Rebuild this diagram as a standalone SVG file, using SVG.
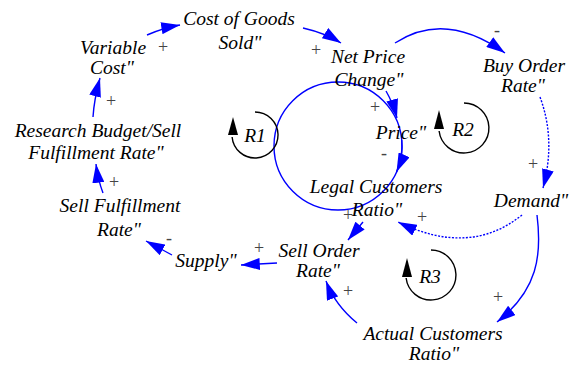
<svg xmlns="http://www.w3.org/2000/svg" width="571" height="366" viewBox="0 0 571 366">
<style>
.n{font-family:'Liberation Serif','Tinos','DejaVu Serif',serif;font-style:italic;font-size:19.5px;fill:#000;text-anchor:middle}
.s{font-family:'Liberation Serif','Tinos','DejaVu Serif',serif;font-size:18px;fill:#444;text-anchor:middle}
.l{fill:none;stroke:#0000ff;stroke-width:1.4}
.d{stroke-dasharray:2,1.5}
.loop{fill:none;stroke:#000;stroke-width:1.4}
</style>
<defs>
<marker id="ah" markerUnits="userSpaceOnUse" markerWidth="19" markerHeight="12" viewBox="0 0 18 11.5" refX="18" refY="5.75" orient="auto">
<path d="M0,0 L18,5.75 L0,11.5 z" fill="#0000ff"/>
</marker>
</defs>
<rect width="571" height="366" fill="#fff"/>
<g id="connectors">
<path class="l" d="M147,35 Q163,28 180,25" marker-end="url(#ah)"/>
<path class="l" d="M303,28 Q325,33 341,43" marker-end="url(#ah)"/>
<path class="l" d="M395,43 Q445,10 505,53" marker-end="url(#ah)"/>
<path class="l d" d="M540,97 Q556,140 543,188" marker-end="url(#ah)"/>
<path class="l d" d="M522,215 Q470,257 398,222" marker-end="url(#ah)"/>
<path class="l" d="M537,215 C542,255 538,290 497,322" marker-end="url(#ah)"/>
<path class="l" d="M363,222 L348,240" marker-end="url(#ah)"/>
<path class="l" d="M277,263 L241,265" marker-end="url(#ah)"/>
<path class="l" d="M172,255 L146,241" marker-end="url(#ah)"/>
<path class="l" d="M103,193 Q98,180 96,164" marker-end="url(#ah)"/>
<path class="l" d="M93,117 Q94,100 100,78" marker-end="url(#ah)"/>
<path class="l" d="M357,323 Q335,305 326,281" marker-end="url(#ah)"/>
<path class="l" d="M386,91 Q393,103 397,118" marker-end="url(#ah)"/>
<circle class="l" cx="338" cy="146" r="64"/>
<path class="l" d="M401.7,140 A64,64 0 0 1 396.5,172" marker-end="url(#ah)"/>
</g>
<g id="signs">
<text class="s" x="163" y="53">+</text>
<text class="s" x="111" y="107">+</text>
<text class="s" x="316" y="56">+</text>
<text class="s" x="497" y="36">-</text>
<text class="s" x="375" y="113">+</text>
<text class="s" x="114" y="188">+</text>
<text class="s" x="169" y="244">-</text>
<text class="s" x="384" y="159">-</text>
<text class="s" x="533" y="170">+</text>
<text class="s" x="348" y="221">+</text>
<text class="s" x="422" y="223">+</text>
<text class="s" x="259" y="254">+</text>
<text class="s" x="348" y="297">+</text>
<text class="s" x="498" y="303">+</text>
</g>
<g id="loop-R1">
<path class="loop" d="M255,112 A23,23 0 1 1 232.1,137"/>
<polygon points="233,117 228,135 238,135" fill="#000"/>
<text class="n" x="255" y="142">R1</text>
</g>
<g id="loop-R2">
<path class="loop" d="M464,103 A25,25 0 1 1 439.1,131"/>
<polygon points="439,110 434,129 444,129" fill="#000"/>
<text class="n" x="463" y="136">R2</text>
</g>
<g id="loop-R3">
<path class="loop" d="M431,250 A25,25 0 1 1 406.1,278"/>
<polygon points="407,258 402,277 412,277" fill="#000"/>
<text class="n" x="430" y="283">R3</text>
</g>
<g id="node-cost-of-goods-sold"><text class="n" x="239" y="25">Cost of Goods</text><text class="n" x="240" y="49">Sold"</text></g>
<g id="node-variable-cost"><text class="n" x="113" y="54">Variable</text><text class="n" x="112" y="74">Cost"</text></g>
<g id="node-net-price-change"><text class="n" x="368" y="63">Net Price</text><text class="n" x="369" y="86">Change"</text></g>
<g id="node-buy-order-rate"><text class="n" x="524" y="72">Buy Order</text><text class="n" x="523" y="92">Rate"</text></g>
<g id="node-research-budget"><text class="n" x="98" y="137">Research Budget/Sell</text><text class="n" x="96" y="159">Fulfillment Rate"</text></g>
<g id="node-price"><text class="n" x="401" y="139">Price"</text></g>
<g id="node-legal-customers-ratio"><text class="n" x="376" y="193">Legal Customers</text><text class="n" x="377" y="216">Ratio"</text></g>
<g id="node-demand"><text class="n" x="531" y="207">Demand"</text></g>
<g id="node-sell-fulfillment-rate"><text class="n" x="120" y="212">Sell Fulfillment</text><text class="n" x="119" y="236">Rate"</text></g>
<g id="node-sell-order-rate"><text class="n" x="319" y="257">Sell Order</text><text class="n" x="318" y="277">Rate"</text></g>
<g id="node-supply"><text class="n" x="206" y="267">Supply"</text></g>
<g id="node-actual-customers-ratio"><text class="n" x="433" y="340">Actual Customers</text><text class="n" x="434" y="360">Ratio"</text></g>
</svg>
